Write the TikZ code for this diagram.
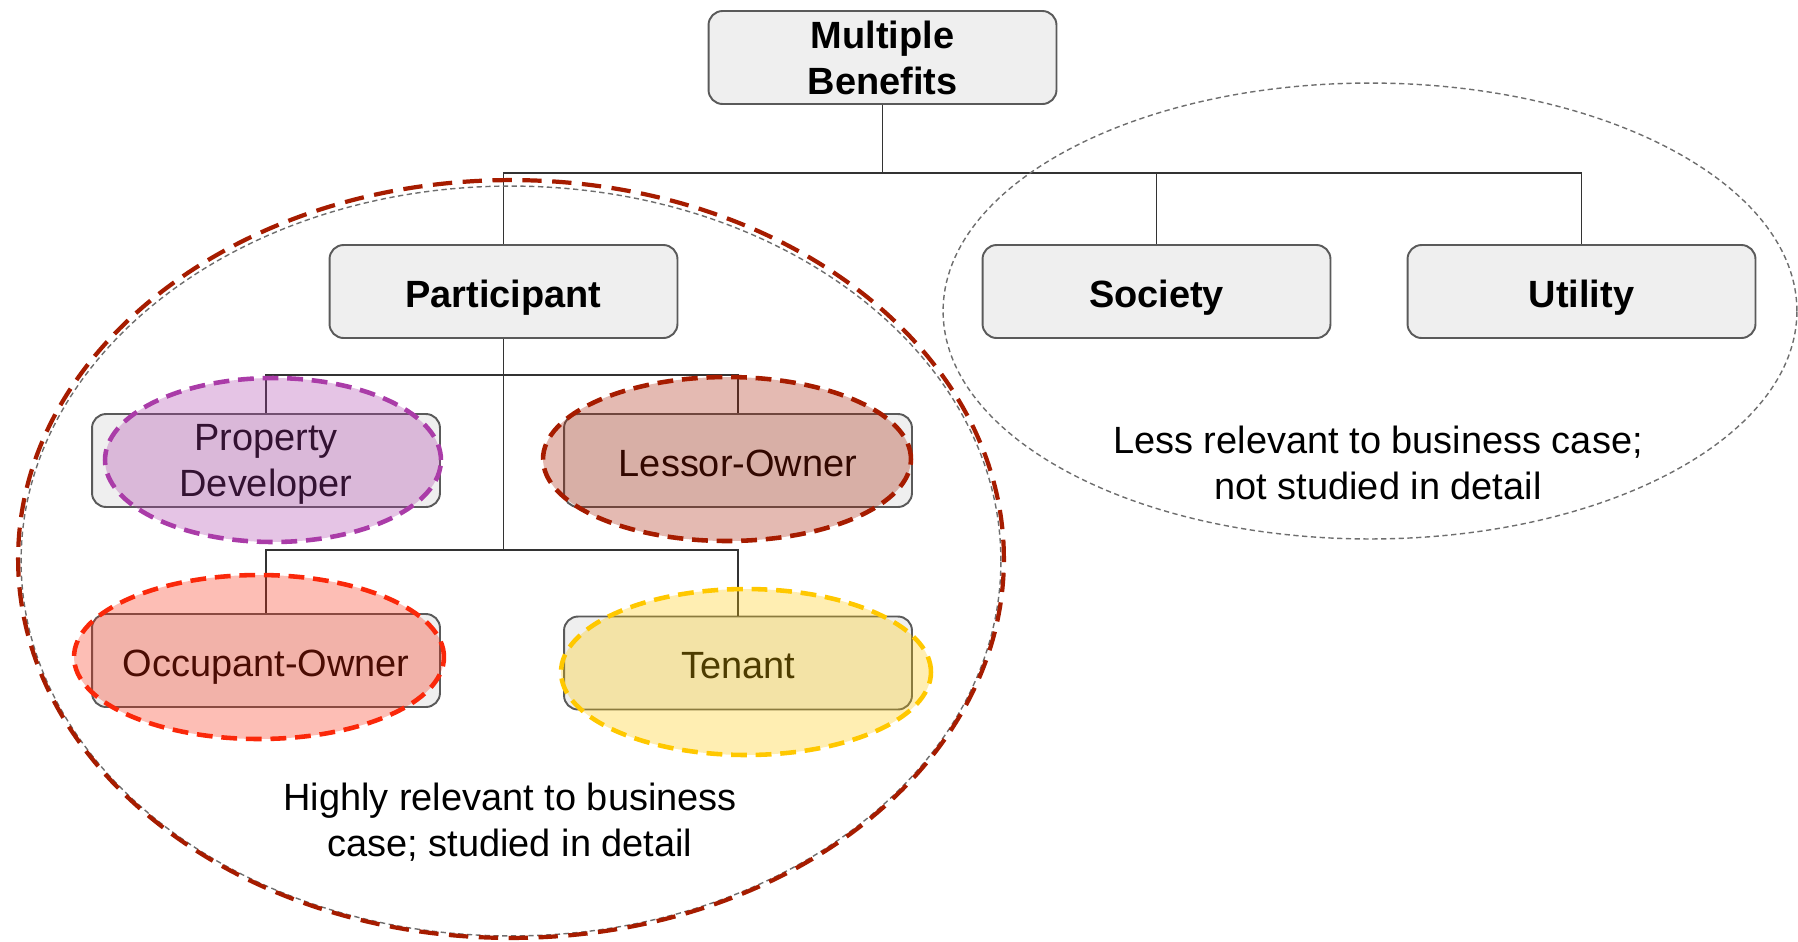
\documentclass[tikz,border=0pt]{standalone}
\usepackage{fontspec}
\setmainfont{Liberation Sans}
\usetikzlibrary{positioning}
\definecolor{boxfill}{RGB}{239,239,239}
\definecolor{boxline}{RGB}{90,90,90}
\definecolor{purp}{RGB}{170,60,168}
\definecolor{dred}{RGB}{166,28,0}
\definecolor{bred}{RGB}{250,40,10}
\definecolor{yel}{RGB}{255,200,0}
\definecolor{dgray}{RGB}{110,110,110}
\tikzset{
  catbox/.style={draw=boxline, fill=boxfill, line width=1.1pt, rounded corners=8pt,
    minimum width=6.96cm, minimum height=1.86cm, align=center, inner sep=2pt,
    font=\fontsize{21.6}{26.2}\selectfont},
  onebox/.style={catbox, text height=18pt, text depth=0pt},
  twobox/.style={catbox, text depth=0pt},
  headbox/.style={onebox, font=\fontsize{21.6}{26.2}\selectfont\bfseries},
  conn/.style={draw=black!80, line width=0.9pt},
  bigred/.style={draw=dred, line width=2.4pt, dash pattern=on 11pt off 6pt},
  thingray/.style={draw=dgray, line width=0.8pt, dash pattern=on 3pt off 2pt},
  note/.style={align=center, font=\fontsize{21.6}{26.2}\selectfont}
}
\begin{document}
\begin{tikzpicture}[x=0.02cm,y=-0.02cm]
\useasboundingbox (0,0) rectangle (1798,941);
% boxes
\node[catbox, font=\fontsize{21.6}{26.2}\selectfont\bfseries] (mb) at (882.5,57.5) {Multiple\\Benefits};
\node[headbox] (part) at (503.5,291.5) {Participant};
\node[headbox] (soc) at (1156.5,291.5) {Society};
\node[headbox] (util) at (1581.5,291.5) {Utility};
\node[twobox] (pd) at (266,460.5) {Property\\Developer};
\node[onebox] (lo) at (738,460.5) {Lessor-Owner};
\node[onebox] (oo) at (266,660.5) {Occupant-Owner};
\node[onebox] (ten) at (738,663) {Tenant};
% bus coordinates
\coordinate (busa) at (0,173);
\coordinate (busb) at (0,375);
\coordinate (busc) at (0,550);
% connectors
\draw[conn] (mb.south) -- (mb.south |- busa);
\draw[conn] (part.north) |- (busa -| util.north) -- (util.north);
\draw[conn] (soc.north) -- (soc.north |- busa);
\draw[conn] (part.south) -- (part.south |- busc);
\draw[conn] (pd.north) |- (busb -| lo.north) -- (lo.north);
\draw[conn] (oo.north) |- (busc -| ten.north) -- (ten.north);
% coloured group ellipses
\fill[purp, fill opacity=0.3] (273,460) ellipse [x radius=3.36cm, y radius=1.64cm];
\draw[purp, line width=2.6pt, dash pattern=on 9pt off 5pt] (273,460) ellipse [x radius=3.36cm, y radius=1.64cm];
\fill[dred, fill opacity=0.3] (727,459) ellipse [x radius=3.68cm, y radius=1.64cm];
\draw[dred, line width=2.6pt, dash pattern=on 9pt off 5pt] (727,459) ellipse [x radius=3.68cm, y radius=1.64cm];
\fill[bred, fill opacity=0.3] (259,657) ellipse [x radius=3.70cm, y radius=1.64cm];
\draw[bred, line width=2.6pt, dash pattern=on 9pt off 5pt] (259,657) ellipse [x radius=3.70cm, y radius=1.64cm];
\fill[yel, fill opacity=0.3] (746,672) ellipse [x radius=3.70cm, y radius=1.66cm];
\draw[yel, line width=2.6pt, dash pattern=on 9pt off 5pt] (746,672) ellipse [x radius=3.70cm, y radius=1.66cm];
% big group ellipses
\draw[thingray] (511,561) ellipse [x radius=9.80cm, y radius=7.50cm];
\draw[bigred] (511,559) ellipse [x radius=9.86cm, y radius=7.58cm];
\draw[thingray] (1370,311) ellipse [x radius=8.54cm, y radius=4.56cm];
% notes
\node[note] (lessnote) at (1378,463) {Less relevant to business case;\\not studied in detail};
\node[note] (highnote) at (510,822) {Highly relevant to business\\case; studied in detail};
\end{tikzpicture}
\end{document}
